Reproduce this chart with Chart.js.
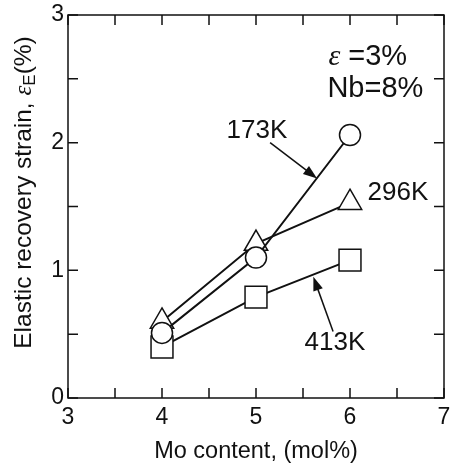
<!DOCTYPE html>
<html>
<head>
<meta charset="utf-8">
<script src="https://cdn.jsdelivr.net/npm/chart.js@4/dist/chart.umd.min.js"></script>
<style>
  html, body { margin: 0; padding: 0; background: #fff; overflow: hidden; }
  canvas { display: block; }
</style>
</head>
<body>
<canvas id="chart" width="454" height="466"></canvas>
<script>
// Mo content (mol%) and elastic recovery strain (%) at each test temperature
const moContent = [4, 5, 6];
const strain173K = [0.51, 1.10, 2.06];
const strain296K = [0.60, 1.21, 1.53];
const strain413K = [0.40, 0.79, 1.08];
const seriesLabels = ['173K', '296K', '413K'];
const xTickLabels = [3, 4, 5, 6, 7];
const yTickLabels = [0, 1, 2, 3];

const ink = '#111';
const sans = '"Liberation Sans", Arial, sans-serif';
const serif = '"Liberation Serif", "DejaVu Serif", serif';

const toPoints = (ys) => moContent.map((x, i) => ({ x: x, y: ys[i] }));

// label positions in data units: text centre, arrow start, arrow tip
const notes = [
  { text: '173K', at: [5.01, 2.09], from: [5.15, 2.00], to: [5.65, 1.72] },
  { text: '296K', at: [6.51, 1.61] },
  { text: '413K', at: [5.84, 0.43], from: [5.82, 0.52], to: [5.61, 0.95] },
];

const frameAndNotes = {
  id: 'frameAndNotes',
  afterDraw(chart) {
    const { ctx, chartArea: a, scales: { x, y } } = chart;
    ctx.save();
    ctx.strokeStyle = ink;
    ctx.fillStyle = ink;

    // box + inward ticks every 0.5
    ctx.lineWidth = 1.5;
    ctx.strokeRect(a.left, a.top, a.right - a.left, a.bottom - a.top);
    const tl = 10;
    ctx.beginPath();
    for (let v = x.min; v <= x.max; v += 0.5) {
      const px = x.getPixelForValue(v);
      ctx.moveTo(px, a.bottom); ctx.lineTo(px, a.bottom - tl);
      ctx.moveTo(px, a.top); ctx.lineTo(px, a.top + tl);
    }
    for (let v = y.min; v <= y.max; v += 0.5) {
      const py = y.getPixelForValue(v);
      ctx.moveTo(a.left, py); ctx.lineTo(a.left + tl, py);
      ctx.moveTo(a.right, py); ctx.lineTo(a.right - tl, py);
    }
    ctx.stroke();

    // series labels with arrows
    ctx.font = '26px ' + sans;
    ctx.textAlign = 'center';
    ctx.textBaseline = 'middle';
    notes.forEach(n => {
      ctx.fillText(n.text, x.getPixelForValue(n.at[0]), y.getPixelForValue(n.at[1]));
      if (!n.from) return;
      const x0 = x.getPixelForValue(n.from[0]), y0 = y.getPixelForValue(n.from[1]);
      const x1 = x.getPixelForValue(n.to[0]), y1 = y.getPixelForValue(n.to[1]);
      const ang = Math.atan2(y1 - y0, x1 - x0);
      ctx.lineWidth = 1.5;
      ctx.beginPath();
      ctx.moveTo(x0, y0);
      ctx.lineTo(x1 - 10 * Math.cos(ang), y1 - 10 * Math.sin(ang));
      ctx.stroke();
      ctx.beginPath();
      ctx.moveTo(x1, y1);
      ctx.lineTo(x1 - 14 * Math.cos(ang) + 5 * Math.sin(ang), y1 - 14 * Math.sin(ang) - 5 * Math.cos(ang));
      ctx.lineTo(x1 - 14 * Math.cos(ang) - 5 * Math.sin(ang), y1 - 14 * Math.sin(ang) + 5 * Math.cos(ang));
      ctx.closePath();
      ctx.fill();
    });

    // condition text
    ctx.textAlign = 'left';
    ctx.textBaseline = 'alphabetic';
    const lx = x.getPixelForValue(5.77);
    ctx.font = 'italic 30px ' + serif;
    ctx.fillText('\u03b5', lx, y.getPixelForValue(2.61));
    const ew = ctx.measureText('\u03b5').width;
    ctx.font = '29px ' + sans;
    ctx.fillText(' =3%', lx + ew, y.getPixelForValue(2.61));
    ctx.fillText('Nb=8%', lx - 1, y.getPixelForValue(2.36));

    // y axis title with subscript
    const parts = [
      { t: 'Elastic recovery strain, ', f: '24.5px ' + sans, dy: 0 },
      { t: '\u03b5', f: 'italic 25px ' + serif, dy: 0 },
      { t: 'E', f: '17px ' + sans, dy: 6 },
      { t: '(%)', f: '24.5px ' + sans, dy: 0 },
    ];
    let total = 0;
    parts.forEach(p => { ctx.font = p.f; p.w = ctx.measureText(p.t).width; total += p.w; });
    ctx.translate(24, (a.top + a.bottom) / 2 - 14);
    ctx.rotate(-Math.PI / 2);
    ctx.textBaseline = 'middle';
    let cx = -total / 2;
    parts.forEach(p => {
      ctx.font = p.f;
      ctx.fillText(p.t, cx, p.dy);
      cx += p.w;
    });
    ctx.restore();
  }
};

const series = [strain173K, strain296K, strain413K];
const styles = [
  { pointStyle: 'circle', pointRadius: 10.5 },
  { pointStyle: 'triangle', pointRadius: 13.5 },
  { pointStyle: 'rect', pointRadius: 15.5 },
];

new Chart(document.getElementById('chart'), {
  type: 'scatter',
  data: {
    datasets: series.map((s, i) => ({
      label: seriesLabels[i],
      data: toPoints(s),
      showLine: true,
      borderColor: ink,
      borderWidth: 2,
      pointBackgroundColor: '#fff',
      pointBorderColor: ink,
      pointBorderWidth: 1.5,
      pointStyle: styles[i].pointStyle,
      pointRadius: styles[i].pointRadius,
    })),
  },
  options: {
    responsive: false,
    animation: false,
    layout: { autoPadding: false, padding: { top: 15, right: 10, left: 0, bottom: 0 } },
    plugins: { legend: { display: false }, tooltip: { enabled: false } },
    scales: {
      x: {
        type: 'linear',
        min: xTickLabels[0],
        max: xTickLabels[xTickLabels.length - 1],
        grid: { display: false, drawTicks: false },
        border: { display: false },
        afterFit: (s) => { s.height = 68; s.paddingLeft = 0; s.paddingRight = 0; },
        afterBuildTicks: (s) => { s.ticks = xTickLabels.map(v => ({ value: v })); },
        ticks: { color: ink, padding: 6, font: { family: sans, size: 23 } },
        title: {
          display: true,
          text: 'Mo content, (mol%)',
          color: ink,
          font: { family: sans, size: 23.5 },
          padding: { top: 0, bottom: 0 },
        },
      },
      y: {
        type: 'linear',
        min: yTickLabels[0],
        max: yTickLabels[yTickLabels.length - 1],
        grid: { display: false, drawTicks: false },
        border: { display: false },
        afterFit: (s) => { s.width = 68; s.paddingTop = 0; s.paddingBottom = 0; },
        afterBuildTicks: (s) => { s.ticks = yTickLabels.map(v => ({ value: v })); },
        ticks: { color: ink, padding: 4, font: { family: sans, size: 23 } },
      },
    },
  },
  plugins: [frameAndNotes],
});
</script>
</body>
</html>
